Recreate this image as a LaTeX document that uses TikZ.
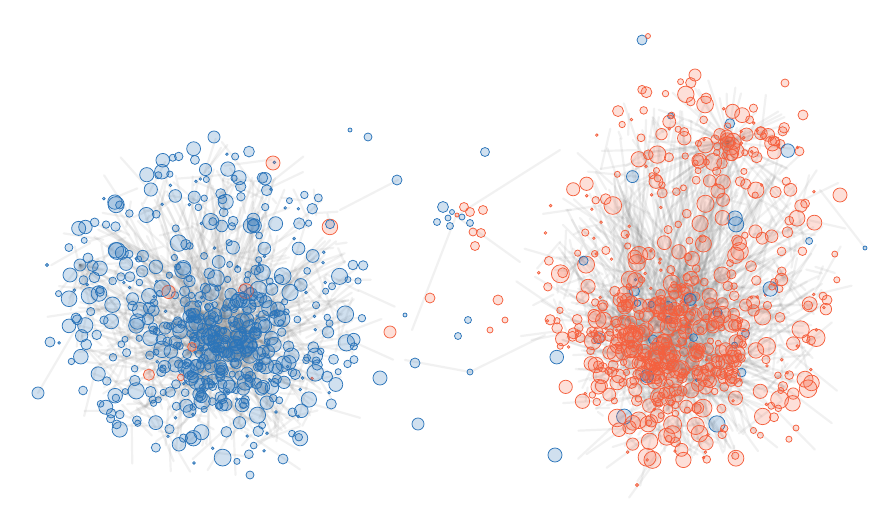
\documentclass[tikz,border=0pt]{standalone}
\definecolor{blu}{RGB}{44,117,186}
\definecolor{org}{RGB}{245,96,62}
\tikzset{
 edge/.style={draw=black!60, line width=2.2pt, opacity=0.085, line cap=round},
 bnode/.style={draw=blu, fill=blu, fill opacity=0.22, line width=0.75pt},
 onode/.style={draw=org, fill=org, fill opacity=0.2, line width=0.75pt},
}
\newcommand{\mygauss}[3]{\pgfmathsetmacro{#1}{#2+#3*(rand+rand+rand)}}
% uniform point in ellipse: #1,#2 output; #3,#4 centre; #5,#6 semi axes
\newcommand{\myell}[6]{\pgfmathsetmacro{\tmpq}{sqrt(rnd)}\pgfmathsetmacro{\tmpa}{360*rnd}%
  \pgfmathsetmacro{#1}{#3+#5*\tmpq*cos(\tmpa)}\pgfmathsetmacro{#2}{#4+#6*\tmpq*sin(\tmpa)}}
\newcommand{\myrad}[2]{\pgfmathsetmacro{\tmpr}{rnd}\ifdim\tmpr pt<0.17pt \def#1{1.3}\else\pgfmathsetmacro{#1}{3+#2*rnd^1.4}\fi}
\begin{document}
\begin{tikzpicture}[x=1pt,y=-1pt]
\useasboundingbox (0,0) rectangle (895,508);
\fill[white] (0,0) rectangle (895,508);
\pgfmathsetseed{4242}
% ---------- blue edges
\foreach \i in {1,...,700}{
  \myell{\ax}{\ay}{215}{310}{145}{145}
  \pgfmathsetmacro{\t}{rnd}
  \ifdim\t pt<0.5pt \mygauss{\bx}{222}{30}\mygauss{\by}{345}{28}
  \else \mygauss{\bx}{\ax}{25}\mygauss{\by}{\ay}{25}\fi
  \draw[edge] (\ax,\ay) -- (\bx,\by);
}
% ---------- orange edges
\foreach \i in {1,...,820}{
  \myell{\ax}{\ay}{688}{285}{135}{175}
  \pgfmathsetmacro{\t}{rnd}
  \ifdim\t pt<0.55pt \mygauss{\bx}{672}{32}\mygauss{\by}{340}{32}
  \else \mygauss{\bx}{\ax}{25}\mygauss{\by}{\ay}{25}\fi
  \draw[edge] (\ax,\ay) -- (\bx,\by);
}
\coordinate (hub) at (728,142);
\foreach \i in {1,...,70}{
  \myell{\bx}{\by}{720}{165}{90}{90}
  \draw[edge] (hub) -- (\bx,\by);
}
\coordinate (lhub) at (80,265);
\foreach \i in {1,...,20}{
  \myell{\bx}{\by}{110}{290}{60}{60}
  \draw[edge] (lhub) -- (\bx,\by);
}
% bridge edges
\coordinate (br) at (456,216);
\coordinate (b1) at (520,262);
\coordinate (b2) at (412,330);
\coordinate (b3) at (470,372);
\coordinate (b4) at (405,360);
\coordinate (b5) at (545,335);
\coordinate (b6) at (560,150);
\coordinate (b7) at (865,248);
\coordinate (b8) at (820,190);
\coordinate (b9) at (398,180);
\coordinate (b10) at (340,210);
\coordinate (b11) at (38,393);
\coordinate (b12) at (75,330);
\draw[edge] (br) -- (b1);
\draw[edge] (br) -- (b2);
\draw[edge] (b4) -- (b3);
\draw[edge] (b3) -- (b5);
\draw[edge] (br) -- (b6);
\draw[edge] (b7) -- (b8);
\draw[edge] (b9) -- (b10);
\draw[edge] (b11) -- (b12);
% ---------- blue nodes
\foreach \i in {1,...,320}{
  \myell{\x}{\y}{212}{305}{158}{160}
  \myrad{\r}{5.5}
  \pgfmathsetmacro{\c}{rnd}
  \ifdim\c pt<0.02pt \filldraw[onode] (\x,\y) circle[radius=\r pt];
  \else \filldraw[bnode] (\x,\y) circle[radius=\r pt];\fi
}
\foreach \i in {1,...,250}{
  \mygauss{\x}{222}{40}\mygauss{\y}{345}{36}
  \myrad{\r}{5.5}
  \pgfmathsetmacro{\c}{rnd}
  \ifdim\c pt<0.015pt \filldraw[onode] (\x,\y) circle[radius=\r pt];
  \else \filldraw[bnode] (\x,\y) circle[radius=\r pt];\fi
}
% ---------- orange nodes
\foreach \i in {1,...,300}{
  \myell{\x}{\y}{688}{275}{150}{195}
  \myrad{\r}{6}
  \pgfmathsetmacro{\c}{rnd}
  \ifdim\c pt<0.03pt \filldraw[bnode] (\x,\y) circle[radius=\r pt];
  \else \filldraw[onode] (\x,\y) circle[radius=\r pt];\fi
}
\foreach \i in {1,...,330}{
  \mygauss{\x}{670}{42}\mygauss{\y}{340}{40}
  \myrad{\r}{6}
  \pgfmathsetmacro{\c}{rnd}
  \ifdim\c pt<0.02pt \filldraw[bnode] (\x,\y) circle[radius=\r pt];
  \else \filldraw[onode] (\x,\y) circle[radius=\r pt];\fi
}
\foreach \i in {1,...,40}{
  \mygauss{\x}{730}{26}\mygauss{\y}{145}{24}
  \myrad{\r}{5}
  \filldraw[onode] (\x,\y) circle[radius=\r pt];
}
% ---------- hand placed nodes
\foreach \px/\py/\r in {443/207/5.5, 437/222/3.5, 450/226/3.5, 462/217/3, 470/223/3.5, 448/218/3, 452/212/2.5, 485/152/4.5, 415/363/5, 418/424/6, 380/378/7, 405/315/2, 397/180/5, 368/137/4, 350/130/2, 642/40/5, 555/455/7, 865/248/2, 470/372/3, 458/336/3.5, 468/320/3.5, 80/265/6, 70/275/7, 88/258/5, 76/318/5, 50/342/5, 38/393/6, 47/265/1.5, 214/137/6, 250/475/4, 283/459/5}{
  \filldraw[bnode] (\px,\py) circle[radius=\r pt];
}
\foreach \px/\py/\r in {464/207/4.5, 470/212/4.5, 483/210/4.5, 473/232/4, 481/233/4.5, 475/246/4.5, 390/332/6, 430/298/5, 648/36/2.5, 457/215/2, 498/300/5, 490/330/3, 505/320/3, 273/163/7, 695/75/6, 785/83/4, 803/115/5, 840/195/7, 827/300/5, 796/428/3, 637/485/1.5}{
  \filldraw[onode] (\px,\py) circle[radius=\r pt];
}
\end{tikzpicture}
\end{document}
